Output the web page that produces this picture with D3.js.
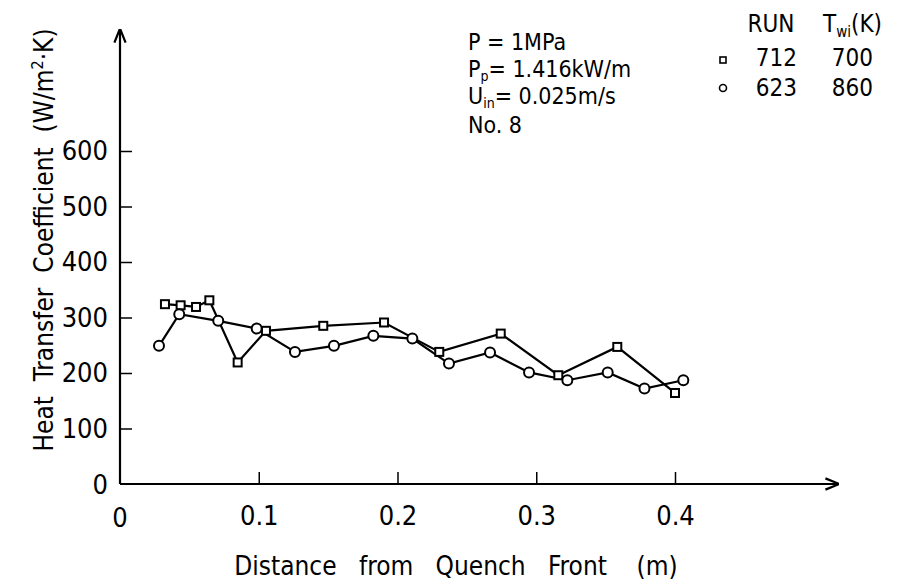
<!DOCTYPE html>
<html>
<head>
<meta charset="utf-8">
<script src="https://cdn.jsdelivr.net/npm/d3@7"></script>
<style>
  body { margin: 0; background: #fff; }
  text { font-family: "DejaVu Sans Condensed", "DejaVu Sans", sans-serif; font-stretch: condensed; fill: #000; }
</style>
</head>
<body>
<svg id="chart" width="920" height="584"></svg>
<script>
const run712X = [0.0324, 0.0437, 0.0548, 0.0644, 0.0848, 0.1052, 0.1465, 0.1903, 0.2301, 0.2744, 0.3159, 0.3584, 0.4000];
const run712Y = [324, 322, 319, 331, 219, 276, 285, 291, 238, 271, 196, 247, 164];
const run623X = [0.0281, 0.0427, 0.0708, 0.0985, 0.1261, 0.1542, 0.1826, 0.2107, 0.2371, 0.2667, 0.2948, 0.3224, 0.3515, 0.3780, 0.4060];
const run623Y = [249, 306, 294, 280, 238, 249, 267, 262, 217, 237, 201, 187, 201, 172, 187];
const xTicks = [0.1, 0.2, 0.3, 0.4];
const yTicks = [100, 200, 300, 400, 500, 600];
const xTickLabels = ["0.1", "0.2", "0.3", "0.4"];

const svg = d3.select("#chart");

// Skalen
const x = d3.scaleLinear().domain([0, 0.4]).range([120, 675]);
const y = d3.scaleLinear().domain([0, 600]).range([484, 151]);

// Pfeilspitze
svg.append("defs").append("marker")
   .attr("id", "arrow")
   .attr("viewBox", "0 0 10 10")
   .attr("refX", 9).attr("refY", 5)
   .attr("markerWidth", 14).attr("markerHeight", 14)
   .attr("markerUnits", "userSpaceOnUse")
   .attr("orient", "auto")
   .append("path")
   .attr("d", "M0,1 L10,5 L0,9")
   .attr("fill", "none")
   .attr("stroke", "#000")
   .attr("stroke-width", 1.6);

// Achsenlinien mit Pfeil
svg.append("line")
   .attr("x1", x(0)).attr("y1", y(0))
   .attr("x2", x(0)).attr("y2", 30)
   .attr("stroke", "#000").attr("stroke-width", 2.2)
   .attr("marker-end", "url(#arrow)");
svg.append("line")
   .attr("x1", x(0)).attr("y1", y(0))
   .attr("x2", 838).attr("y2", y(0))
   .attr("stroke", "#000").attr("stroke-width", 2.2)
   .attr("marker-end", "url(#arrow)");

// X-Achse
const gx = svg.append("g")
   .attr("transform", `translate(0,${y(0)})`)
   .call(d3.axisBottom(x).tickValues(xTicks).tickSize(-12).tickPadding(22)
            .tickFormat((d, i) => xTickLabels[i]));
gx.select(".domain").remove();
gx.selectAll("line").attr("stroke", "#000").attr("stroke-width", 1.5);
gx.selectAll("text").attr("font-size", 27).attr("font-family", null);

// Null-Label unten
svg.append("text")
   .attr("x", x(0)).attr("y", 527)
   .attr("text-anchor", "middle")
   .attr("font-size", 27)
   .text("0");

// Y-Achse
const gy = svg.append("g")
   .attr("transform", `translate(${x(0)},0)`)
   .call(d3.axisLeft(y).tickValues(yTicks).tickSize(-12).tickPadding(12));
gy.select(".domain").remove();
gy.selectAll("line").attr("stroke", "#000").attr("stroke-width", 1.5);
gy.selectAll("text").attr("font-size", 27).attr("font-family", null);

svg.append("text")
   .attr("x", 108).attr("y", y(0))
   .attr("dy", "0.36em")
   .attr("text-anchor", "end")
   .attr("font-size", 27)
   .text("0");

// Achsenbeschriftungen
svg.append("text")
   .attr("x", 456).attr("y", 575)
   .attr("text-anchor", "middle")
   .attr("font-size", 26)
   .attr("xml:space", "preserve")
   .text("Distance   from   Quench   Front    (m)");

const yl = svg.append("text")
   .attr("transform", "translate(53,240) rotate(-90)")
   .attr("text-anchor", "middle")
   .attr("font-size", 26)
   .attr("xml:space", "preserve");
yl.append("tspan").text("Heat  Transfer  Coefficient  (W/m");
yl.append("tspan").attr("font-size", 16).attr("dy", -10).text("2");
yl.append("tspan").attr("dy", 10).text("·K)");

// Linien und Marker
const line = d3.line().x(d => x(d[0])).y(d => y(d[1]));
const s712 = run712X.map((v, i) => [v, run712Y[i]]);
const s623 = run623X.map((v, i) => [v, run623Y[i]]);

[s712, s623].forEach(s => {
  svg.append("path")
     .attr("d", line(s))
     .attr("fill", "none")
     .attr("stroke", "#000")
     .attr("stroke-width", 2.2);
});

svg.append("g").selectAll("rect")
   .data(s712).enter().append("rect")
   .attr("x", d => x(d[0]) - 4).attr("y", d => y(d[1]) - 4)
   .attr("width", 8).attr("height", 8)
   .attr("fill", "#fff").attr("stroke", "#000").attr("stroke-width", 2);

svg.append("g").selectAll("circle")
   .data(s623).enter().append("circle")
   .attr("cx", d => x(d[0])).attr("cy", d => y(d[1]))
   .attr("r", 5)
   .attr("fill", "#fff").attr("stroke", "#000").attr("stroke-width", 2);

// Versuchsbedingungen
const cond = svg.append("g").attr("font-size", 23);
cond.append("text").attr("x", 468).attr("y", 50).attr("xml:space", "preserve").text("P = 1MPa");
const pp = cond.append("text").attr("x", 468).attr("y", 77);
pp.append("tspan").text("P");
pp.append("tspan").attr("font-size", 14).attr("dy", 4).text("p");
pp.append("tspan").attr("dy", -4).text("= 1.416kW/m");
const uin = cond.append("text").attr("x", 468).attr("y", 104);
uin.append("tspan").text("U");
uin.append("tspan").attr("font-size", 14).attr("dy", 4).text("in");
uin.append("tspan").attr("dy", -4).text("= 0.025m/s");
cond.append("text").attr("x", 468).attr("y", 133).text("No. 8");

// Legende
const leg = svg.append("g").attr("font-size", 24);
leg.append("text").attr("x", 771).attr("y", 32).attr("text-anchor", "middle").text("RUN");
const tw = leg.append("text").attr("x", 823).attr("y", 32);
tw.append("tspan").text("T");
tw.append("tspan").attr("font-size", 15).attr("dy", 5).text("wi");
tw.append("tspan").attr("dy", -5).text("(K)");

const legRows = [["712", "700", 66], ["623", "860", 96]];
legRows.forEach(r => {
  leg.append("text").attr("x", 797).attr("y", r[2]).attr("text-anchor", "end").text(r[0]);
  leg.append("text").attr("x", 873).attr("y", r[2]).attr("text-anchor", "end").text(r[1]);
});
leg.append("rect").attr("x", 720).attr("y", 57).attr("width", 6).attr("height", 6)
   .attr("fill", "#fff").attr("stroke", "#000").attr("stroke-width", 1.6);
leg.append("circle").attr("cx", 723).attr("cy", 88).attr("r", 3.5)
   .attr("fill", "#fff").attr("stroke", "#000").attr("stroke-width", 1.6);
</script>
</body>
</html>
